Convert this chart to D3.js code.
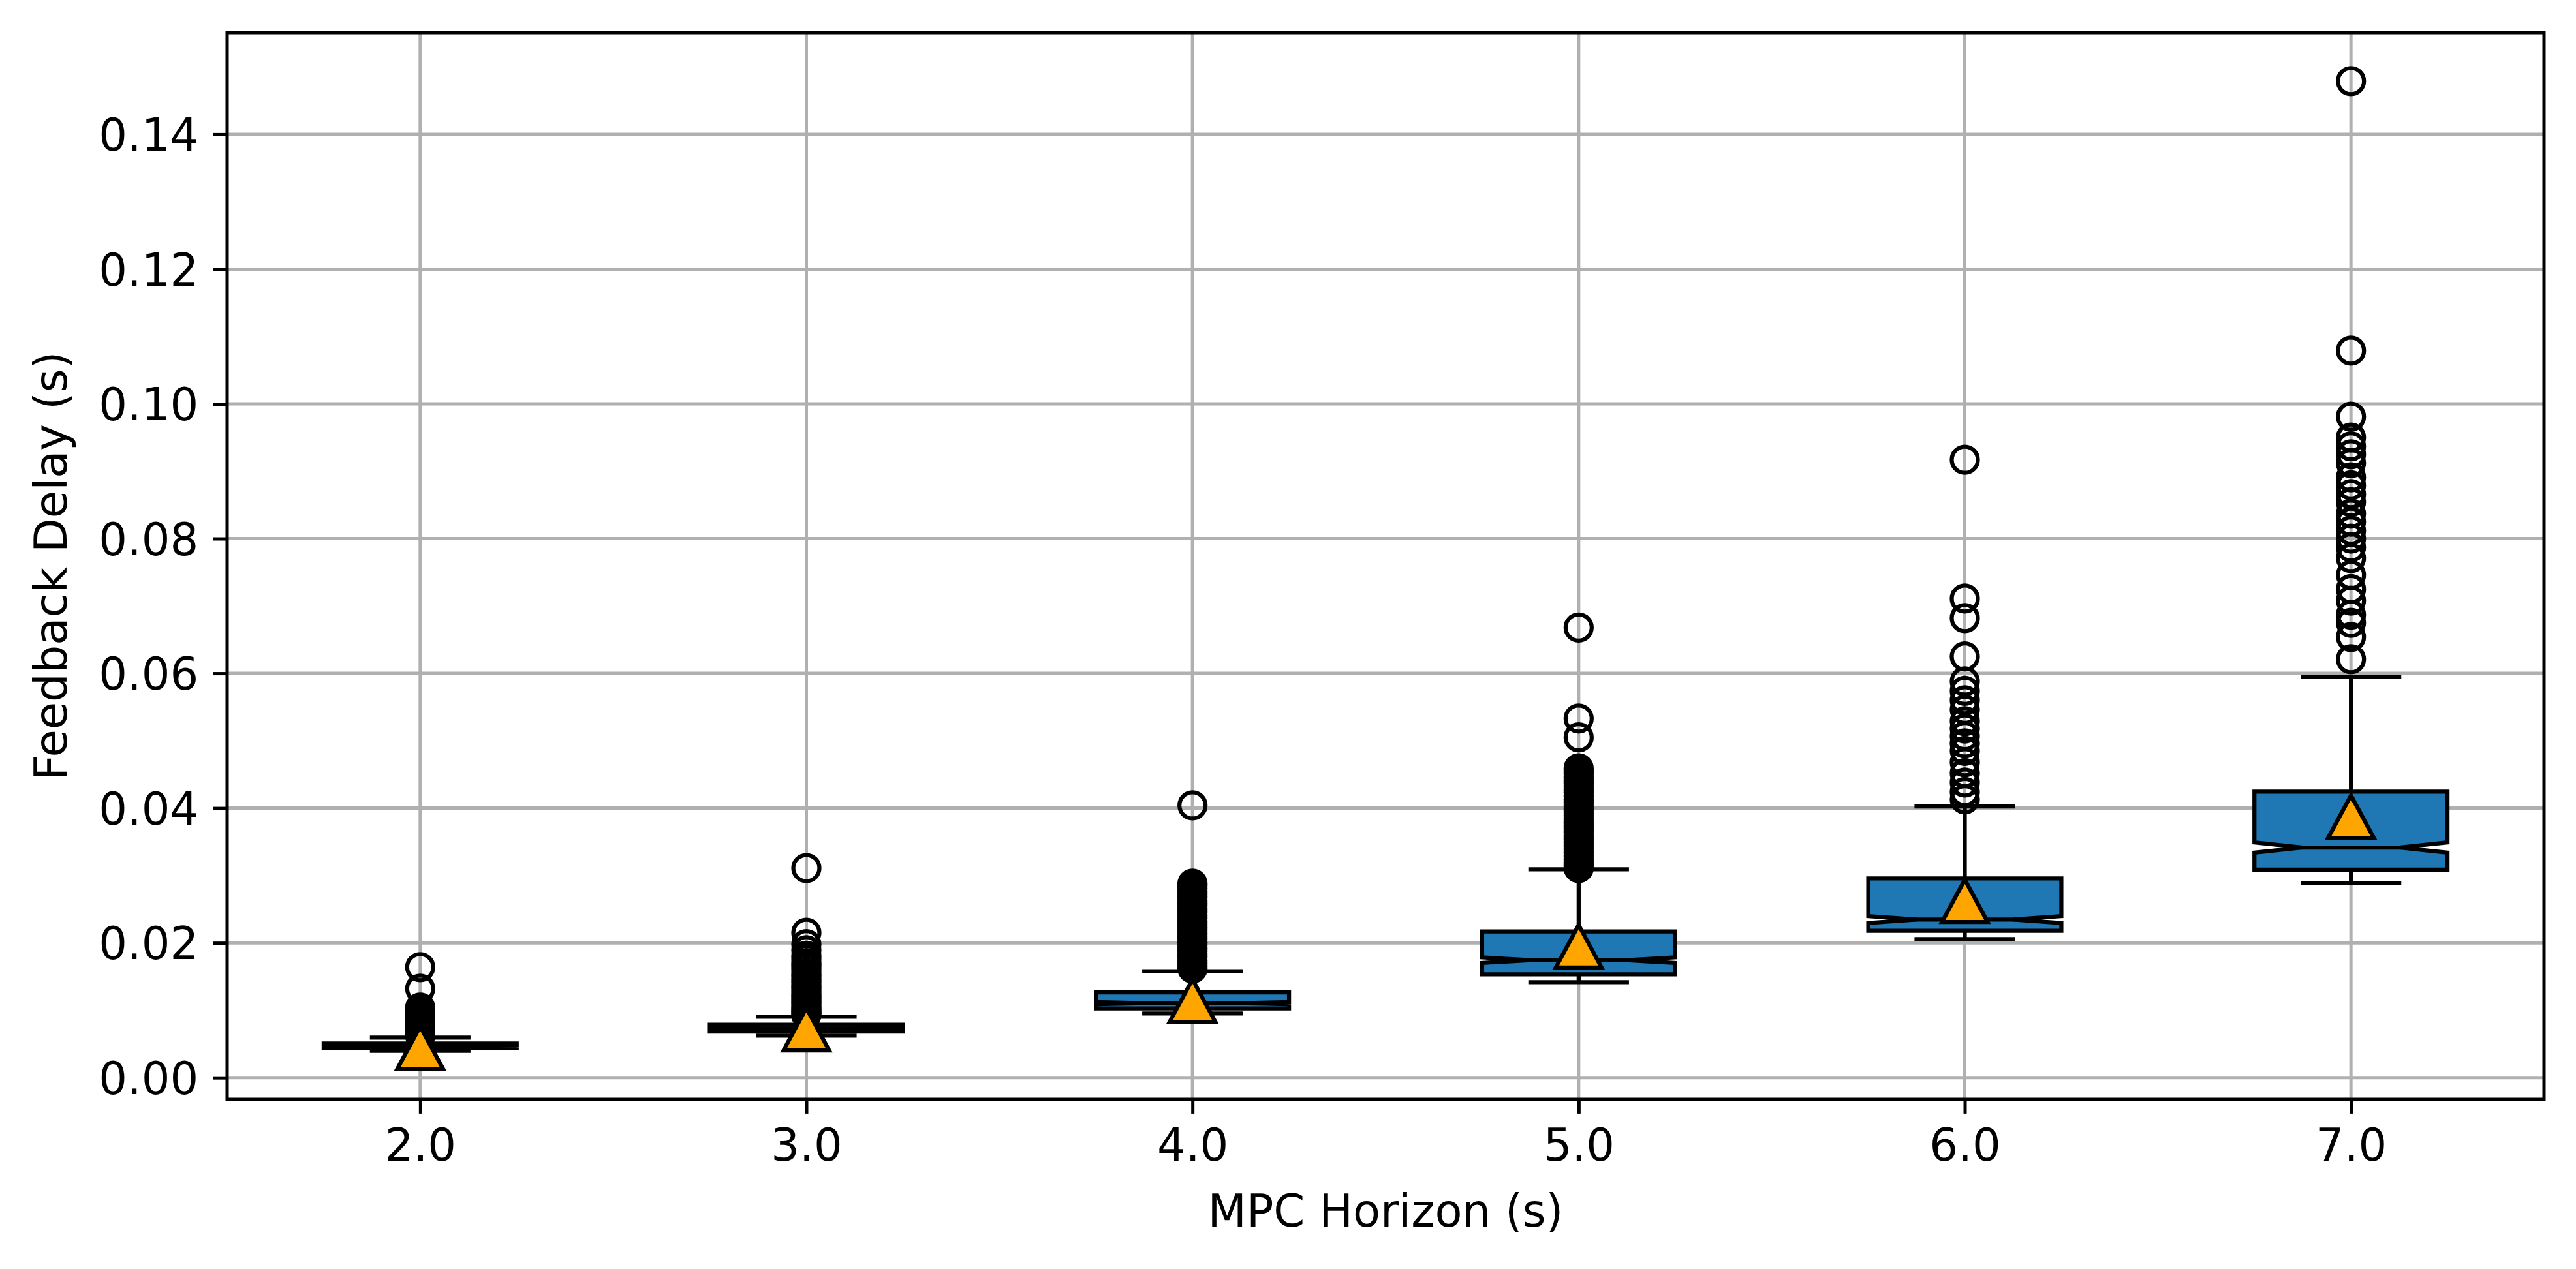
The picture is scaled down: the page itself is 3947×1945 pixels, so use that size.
<!DOCTYPE html>
<html>
<head>
<meta charset="utf-8">
<script src="https://cdn.jsdelivr.net/npm/d3@7"></script>
<style>
  html, body { margin: 0; padding: 0; background: #fff; overflow: hidden; }
  svg { display: block; }
  text { font-family: "DejaVu Sans", sans-serif; fill: #000; }
</style>
</head>
<body>
<svg id="chart"></svg>
<script>
// MPC horizon (s) for each box
const horizons = [2.0, 3.0, 4.0, 5.0, 6.0, 7.0];

// box statistics (s)
const q1s        = [0.00436, 0.00684, 0.01027, 0.01533, 0.02179, 0.03088];
const medians    = [0.00470, 0.00730, 0.01105, 0.01743, 0.02346, 0.03415];
const q3s        = [0.00507, 0.00784, 0.01264, 0.02169, 0.02957, 0.04244];
const whiskerLow = [0.00397, 0.00623, 0.00952, 0.01417, 0.02056, 0.02889];
const whiskerHigh= [0.00594, 0.00904, 0.01580, 0.03091, 0.04025, 0.05946];
const means      = [0.00445, 0.00718, 0.01143, 0.01950, 0.02624, 0.03873];
const sampleCounts = [580, 580, 580, 580, 580, 580];

const outliers = [
  [0.0164, 0.0132, 0.0104, 0.0101, 0.0097, 0.0092, 0.0090, 0.0087, 0.0084, 0.0081, 0.0079, 0.0076, 0.0073, 0.0071, 0.0069, 0.0066, 0.0064, 0.0062],
  [0.0311, 0.0215, 0.0198, 0.0189, 0.0181, 0.0176, 0.0170, 0.0166, 0.0161, 0.0155, 0.0151, 0.0146, 0.0142, 0.0137, 0.0133, 0.0129, 0.0124, 0.0120, 0.0116, 0.0112, 0.0108, 0.0104, 0.0101, 0.0098, 0.0095, 0.0093],
  [0.0404, 0.0288, 0.0285, 0.0281, 0.0276, 0.0272, 0.0268, 0.0263, 0.0259, 0.0255, 0.0250, 0.0246, 0.0241, 0.0237, 0.0232, 0.0228, 0.0223, 0.0219, 0.0214, 0.0210, 0.0206, 0.0201, 0.0197, 0.0192, 0.0188, 0.0183, 0.0179, 0.0174, 0.0170, 0.0166, 0.0162],
  [0.0668, 0.0533, 0.0505, 0.0459, 0.0455, 0.0451, 0.0446, 0.0441, 0.0437, 0.0432, 0.0427, 0.0423, 0.0418, 0.0413, 0.0408, 0.0403, 0.0398, 0.0394, 0.0389, 0.0384, 0.0379, 0.0374, 0.0369, 0.0364, 0.0359, 0.0354, 0.0349, 0.0344, 0.0339, 0.0334, 0.0329, 0.0324, 0.0319, 0.0315, 0.0311],
  [0.0917, 0.0711, 0.0682, 0.0625, 0.0588, 0.0574, 0.0560, 0.0546, 0.0529, 0.0518, 0.0507, 0.0496, 0.0485, 0.0468, 0.0452, 0.0438, 0.0424, 0.0413],
  [0.1479, 0.1079, 0.0981, 0.0950, 0.0937, 0.0925, 0.0912, 0.0891, 0.0879, 0.0866, 0.0854, 0.0837, 0.0825, 0.0812, 0.0800, 0.0787, 0.0771, 0.0746, 0.0725, 0.0708, 0.0687, 0.0675, 0.0654, 0.0621]
];

const yTicks = [0.00, 0.02, 0.04, 0.06, 0.08, 0.10, 0.12, 0.14];
const xLabel = 'MPC Horizon (s)';
const yLabel = 'Feedback Delay (s)';

const width = 3947, height = 1945;
const margin = { top: 50, right: 49, bottom: 260, left: 348 };
const innerWidth = width - margin.left - margin.right;
const innerHeight = height - margin.top - margin.bottom;
const fontSize = 68.75;
const lw = 6.25;       // 1pt
const thin = 5;        // 0.8pt
const tickLen = 21.9;
const boxWidth = 0.5;

const boxes = horizons.map((h, i) => ({
  pos: h, q1: q1s[i], med: medians[i], q3: q3s[i],
  lo: whiskerLow[i], hi: whiskerHigh[i], mean: means[i],
  n: sampleCounts[i], fliers: outliers[i]
}));

// autoscale like matplotlib: 5% margin on the data extent
const dataMin = d3.min(boxes, d => Math.min(d.lo, d3.min(d.fliers)));
const dataMax = d3.max(boxes, d => Math.max(d.hi, d3.max(d.fliers)));
const pad = (dataMax - dataMin) * 0.05;

const x = d3.scaleLinear()
  .domain([horizons[0] - 0.5, horizons[horizons.length - 1] + 0.5])
  .range([0, innerWidth]);

const y = d3.scaleLinear()
  .domain([dataMin - pad, dataMax + pad])
  .range([innerHeight, 0]);

const svg = d3.select('#chart')
  .attr('width', width)
  .attr('height', height);

svg.append('rect').attr('width', width).attr('height', height).attr('fill', '#fff');

const chart = svg.append('g')
  .attr('transform', `translate(${margin.left}, ${margin.top})`);

// grid
const grid = chart.append('g').attr('class', 'grid');
grid.selectAll('.hgrid')
  .data(yTicks)
  .enter().append('line')
  .attr('x1', 0).attr('x2', innerWidth)
  .attr('y1', d => y(d)).attr('y2', d => y(d))
  .attr('stroke', '#b0b0b0').attr('stroke-width', thin);
grid.selectAll('.vgrid')
  .data(horizons)
  .enter().append('line')
  .attr('x1', d => x(d)).attr('x2', d => x(d))
  .attr('y1', 0).attr('y2', innerHeight)
  .attr('stroke', '#b0b0b0').attr('stroke-width', thin);

function boxPath(d) {
  const hw = boxWidth / 2;
  const notch = 1.57 * (d.q3 - d.q1) / Math.sqrt(d.n);
  const pts = [
    [x(d.pos - hw), y(d.q1)],
    [x(d.pos + hw), y(d.q1)],
    [x(d.pos + hw), y(d.med - notch)],
    [x(d.pos + hw / 2), y(d.med)],
    [x(d.pos + hw), y(d.med + notch)],
    [x(d.pos + hw), y(d.q3)],
    [x(d.pos - hw), y(d.q3)],
    [x(d.pos - hw), y(d.med + notch)],
    [x(d.pos - hw / 2), y(d.med)],
    [x(d.pos - hw), y(d.med - notch)]
  ];
  return 'M' + pts.map(p => p.join(',')).join('L') + 'Z';
}

const plot = chart.append('g').attr('class', 'boxes');
boxes.forEach(function(d) {
  const g = plot.append('g');
  g.append('path')
    .attr('d', boxPath(d))
    .attr('fill', '#1f77b4')
    .attr('stroke', '#000')
    .attr('stroke-width', lw)
    .attr('stroke-linejoin', 'miter');
  // whiskers
  [[d.q1, d.lo], [d.q3, d.hi]].forEach(function(w) {
    g.append('line')
      .attr('x1', x(d.pos)).attr('x2', x(d.pos))
      .attr('y1', y(w[0])).attr('y2', y(w[1]))
      .attr('stroke', '#000').attr('stroke-width', lw);
  });
  // caps
  [d.lo, d.hi].forEach(function(v) {
    g.append('line')
      .attr('x1', x(d.pos - boxWidth / 4)).attr('x2', x(d.pos + boxWidth / 4))
      .attr('y1', y(v)).attr('y2', y(v))
      .attr('stroke', '#000').attr('stroke-width', lw)
      .attr('stroke-linecap', 'square');
  });
  // fliers
  g.selectAll('.flier')
    .data(d.fliers)
    .enter().append('circle')
    .attr('class', 'flier')
    .attr('cx', x(d.pos))
    .attr('cy', v => y(v))
    .attr('r', 20)
    .attr('fill', 'none')
    .attr('stroke', '#000')
    .attr('stroke-width', lw);
});

// medians and means sit on top of everything else
const statsLayer = chart.append('g').attr('class', 'stats');
statsLayer.selectAll('.median')
  .data(boxes)
  .enter().append('line')
  .attr('x1', d => x(d.pos - boxWidth / 4)).attr('x2', d => x(d.pos + boxWidth / 4))
  .attr('y1', d => y(d.med)).attr('y2', d => y(d.med))
  .attr('stroke', '#000').attr('stroke-width', lw)
  .attr('stroke-linecap', 'square');
statsLayer.selectAll('.mean')
  .data(boxes)
  .enter().append('path')
  .attr('transform', d => `translate(${x(d.pos)}, ${y(d.mean)})`)
  .attr('d', 'M0,-32.5L-35,32.5L35,32.5Z')
  .attr('fill', '#ffa500')
  .attr('stroke', '#000')
  .attr('stroke-width', lw)
  .attr('stroke-linejoin', 'miter');

// axes
const yAxis = d3.axisLeft(y).tickValues(yTicks).tickFormat(d3.format('.2f'))
  .tickSize(tickLen).tickPadding(tickLen);
const xAxis = d3.axisBottom(x).tickValues(horizons).tickFormat(d3.format('.1f'))
  .tickSize(tickLen).tickPadding(tickLen);

const gy = chart.append('g')
  .attr('font-size', fontSize)
  .call(yAxis)
  .attr('font-family', 'DejaVu Sans')
  .attr('font-size', fontSize);
gy.select('.domain').remove();
gy.selectAll('.tick line').attr('stroke-width', thin);
gy.selectAll('.tick text').attr('dy', '0.36em');

const gx = chart.append('g')
  .attr('transform', `translate(0, ${innerHeight})`)
  .call(xAxis)
  .attr('font-family', 'DejaVu Sans')
  .attr('font-size', fontSize);
gx.select('.domain').remove();
gx.selectAll('.tick line').attr('stroke-width', thin);
gx.selectAll('.tick text').attr('dy', '0.73em');

// spines
chart.append('rect')
  .attr('width', innerWidth).attr('height', innerHeight)
  .attr('fill', 'none').attr('stroke', '#000').attr('stroke-width', thin);

svg.append('text')
  .attr('x', margin.left + innerWidth / 2)
  .attr('y', 1880)
  .attr('text-anchor', 'middle')
  .attr('font-size', fontSize)
  .text(xLabel);

svg.append('text')
  .attr('transform', `translate(102, ${margin.top + innerHeight / 2}) rotate(-90)`)
  .attr('text-anchor', 'middle')
  .attr('font-size', fontSize)
  .text(yLabel);
</script>
</body>
</html>
